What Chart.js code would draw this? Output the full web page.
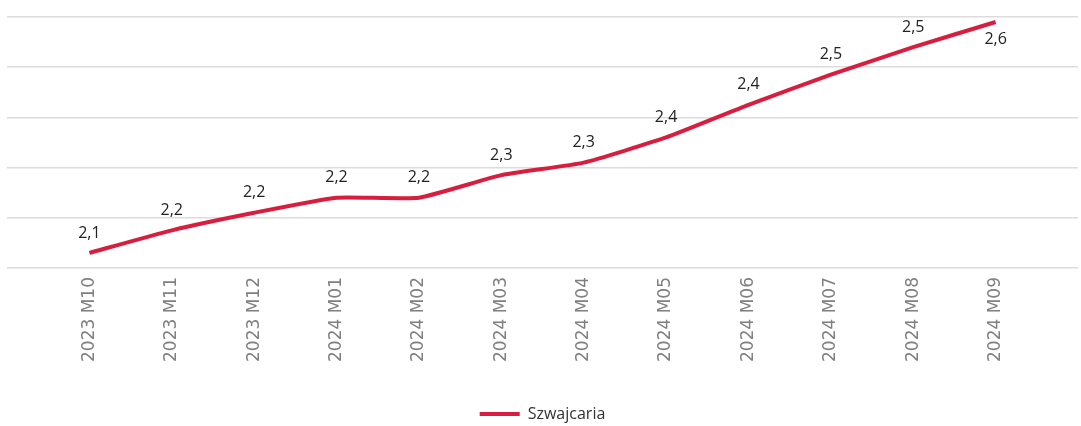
<html>
<head>
<script src="https://cdn.jsdelivr.net/npm/chart.js@4/dist/chart.umd.min.js"></script>
<style>
  body { margin: 0; background: #fff; }
  #wrap { width: 1081px; height: 426px; }
</style>
</head>
<body>
<div id="wrap"><canvas id="c"></canvas></div>
<script>
var categories = ['2023 M10', '2023 M11', '2023 M12', '2024 M01', '2024 M02', '2024 M03',
                  '2024 M04', '2024 M05', '2024 M06', '2024 M07', '2024 M08', '2024 M09'];
var seriesName = 'Szwajcaria';
var values = [2.13, 2.175, 2.21, 2.24, 2.24, 2.285, 2.31, 2.36, 2.425, 2.485, 2.54, 2.59];
var yTicks = [2.1, 2.2, 2.3, 2.4, 2.5, 2.6];

var red = '#d81e3f';

// value labels above each point (last one below)
var valueLabels = {
  id: 'valueLabels',
  afterDatasetsDraw: function (chart) {
    var ctx = chart.ctx;
    var meta = chart.getDatasetMeta(0);
    ctx.save();
    ctx.font = '16px "Open Sans"';
    ctx.fillStyle = '#222';
    ctx.textAlign = 'center';
    ctx.textBaseline = 'middle';
    meta.data.forEach(function (pt, i) {
      var txt = values[i].toFixed(1).replace('.', ',');
      var dy = (i === values.length - 1) ? 17 : -20;
      ctx.fillText(txt, pt.x, pt.y + dy);
    });
    ctx.restore();
  }
};

var ctx = document.getElementById('c').getContext('2d');
new Chart(ctx, {
  type: 'line',
  data: {
    datasets: [{
      label: seriesName,
      data: values.map(function (v, i) { return { x: i, y: v }; }),
      borderColor: red,
      backgroundColor: red,
      borderWidth: 4,
      pointRadius: 0,
      tension: 0.15
    }]
  },
  options: {
    responsive: true,
    maintainAspectRatio: false,
    animation: false,
    layout: { padding: { top: 17, left: 7, right: 3, bottom: -6 } },
    scales: {
      x: {
        type: 'linear',
        min: -1,
        max: 12,
        grid: { display: false },
        border: { display: false },
        afterBuildTicks: function (axis) {
          axis.ticks = categories.map(function (c, i) { return { value: i }; });
        },
        afterFit: function (axis) { axis.height = 134; },
        ticks: {
          autoSkip: false,
          minRotation: 90,
          maxRotation: 90,
          padding: 1,
          color: '#808080',
          font: { family: 'DejaVu Sans', size: 17 },
          callback: function (v) { return categories[v]; }
        }
      },
      y: {
        min: 2.1,
        max: 2.6,
        afterBuildTicks: function (axis) {
          axis.ticks = yTicks.map(function (v) { return { value: v }; });
        },
        ticks: { display: false },
        border: { display: false },
        grid: { color: '#dcdcdc', lineWidth: 1.5, drawTicks: false }
      }
    },
    plugins: {
      legend: {
        position: 'bottom',
        labels: {
          usePointStyle: true,
          pointStyle: 'line',
          pointStyleWidth: 40,
          color: '#333',
          padding: 4,
          font: { family: 'Open Sans', size: 16 }
        }
      },
      tooltip: { enabled: false }
    }
  },
  plugins: [valueLabels]
});
</script>
</body>
</html>
